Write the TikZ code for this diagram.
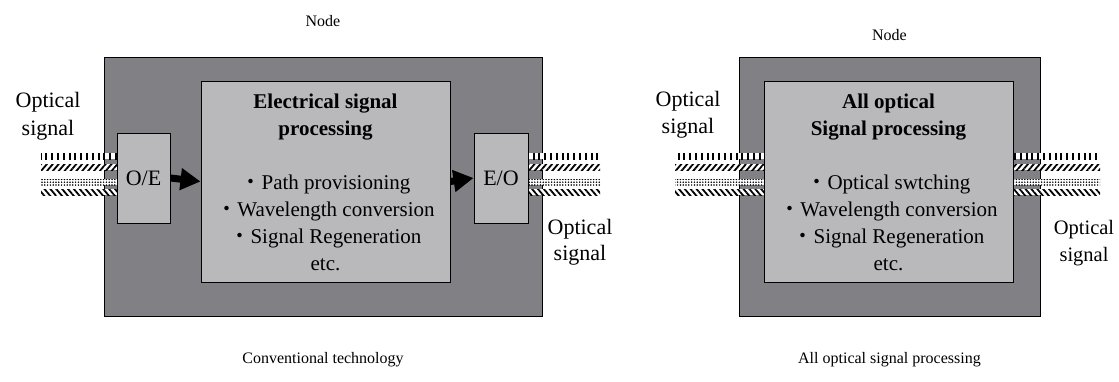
\documentclass[tikz,border=0pt]{standalone}
\usepackage{fontspec}
\setmainfont{Liberation Serif}
\newfontfamily\cjkfont{Noto Sans CJK JP}
\usetikzlibrary{arrows.meta,patterns.meta}
\definecolor{nodegray}{RGB}{128,128,133}
\definecolor{boxgray}{RGB}{185,185,188}
\newcommand{\bul}{{\cjkfont ・}}

\begin{document}
\begin{tikzpicture}[x=1pt,y=-1pt,
  outerbox/.style={draw=black, line width=1pt, fill=nodegray, inner sep=0pt},
  innerbox/.style={draw=black, line width=1pt, fill=boxgray, inner sep=0pt},
  conv/.style={innerbox, font=\fontsize{22}{26}\selectfont},
  body/.style={font=\fontsize{21}{27}\selectfont, anchor=base, inner sep=0pt},
  title/.style={body, font=\fontsize{21}{27}\selectfont\bfseries},
  lbl/.style={font=\fontsize{22}{27}\selectfont, anchor=base, inner sep=0pt},
  smalllbl/.style={font=\fontsize{20.5}{27}\selectfont, anchor=base, inner sep=0pt},
  caption/.style={font=\fontsize{16}{20}\selectfont, anchor=base, inner sep=0pt},
  bigarrow/.style={line width=7pt, -{Triangle[length=20pt,width=21pt]}},
  fibrebg/.style={fill=white},
  bars/.style={pattern={Lines[angle=90,distance=5.8pt,line width=2pt]}},
  slash/.style={pattern={Lines[angle=50,distance=4.5pt,line width=1.8pt]}},
  grain/.style={pattern={Dots[distance=2.8pt,radius=0.85pt]}},
  backslash/.style={pattern={Lines[angle=-50,distance=4.5pt,line width=1.8pt]}},
]
\useasboundingbox (0,0) rectangle (1119,381);

% four fibre strips between x-positions #1 and #2
\def\fibres#1#2{%
  \fill[fibrebg] (#1,153) rectangle (#2,159);
  \fill[fibrebg] (#1,164) rectangle (#2,170);
  \fill[fibrebg] (#1,179) rectangle (#2,185);
  \fill[fibrebg] (#1,189) rectangle (#2,195);
  \path[bars] (#1,153) rectangle (#2,159);
  \path[slash] (#1,164) rectangle (#2,170);
  \path[grain] (#1,179) rectangle (#2,185);
  \path[backslash] (#1,189) rectangle (#2,195);
}

% ---------- conventional node ----------
\node[outerbox, minimum width=438pt, minimum height=259pt] (nodeL) at (323,186.5) {};
\fibres{41}{117}
\fibres{528}{600}
\node[innerbox, minimum width=249pt, minimum height=201pt] (procL) at (325.5,181.5) {};
\node[conv, minimum width=53pt, minimum height=90pt] (oe) at (143.5,178) {O/E};
\node[conv, minimum width=54pt, minimum height=90pt] (eo) at (501,178) {E/O};
\draw[bigarrow] (oe.east) -- (procL.west);
\draw[bigarrow] (procL.east) -- (eo.west);

\node[title] (tL1) at (325.5,108) {Electrical signal};
\node[title] (tL2) at (325.5,135) {processing};
\node[body] (bL1) at (325.5,189) {\bul Path provisioning};
\node[body] (bL2) at (325.5,216) {\bul Wavelength conversion};
\node[body] (bL3) at (325.5,243) {\bul Signal Regeneration};
\node[body] (bL4) at (325.5,270) {etc.};

\node[caption] (nodeLabelL) at (323,26) {Node};
\node[lbl] (inL1) at (48,107) {Optical};
\node[lbl] (inL2) at (48,135) {signal};
\node[lbl] (outL1) at (580,234) {Optical};
\node[lbl] (outL2) at (580,260) {signal};
\node[caption] (capL) at (323,363) {Conventional technology};

% ---------- all-optical node ----------
\node[outerbox, minimum width=301pt, minimum height=259pt] (nodeR) at (889.5,186.5) {};
\fibres{675}{764}
\fibres{1013}{1100}
\node[innerbox, minimum width=249pt, minimum height=201pt] (procR) at (888.5,181.5) {};

\node[title] (tR1) at (888.5,108) {All optical};
\node[title] (tR2) at (888.5,135) {Signal processing};
\node[body] (bR1) at (888.5,189) {\bul Optical swtching};
\node[body] (bR2) at (888.5,216) {\bul Wavelength conversion};
\node[body] (bR3) at (888.5,243) {\bul Signal Regeneration};
\node[body] (bR4) at (888.5,270) {etc.};

\node[caption] (nodeLabelR) at (889.5,40) {Node};
\node[lbl] (inR1) at (688,106) {Optical};
\node[lbl] (inR2) at (688,133) {signal};
\node[smalllbl] (outR1) at (1084,234) {Optical};
\node[smalllbl] (outR2) at (1084,261) {signal};
\node[caption] (capR) at (889.5,363) {All optical signal processing};
\end{tikzpicture}
\end{document}
